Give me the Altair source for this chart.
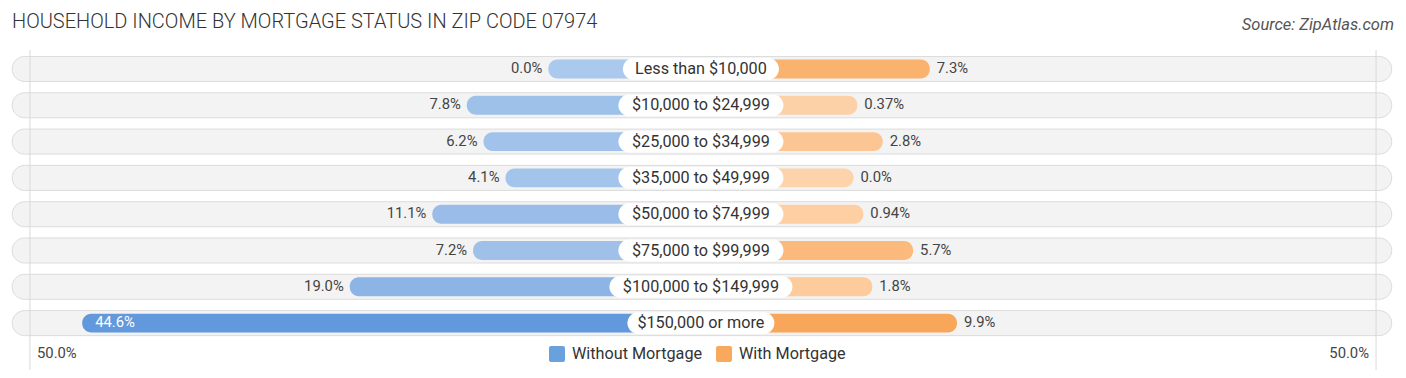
import altair as alt
import pandas as pd

categories = ["Less than $10,000", "$10,000 to $24,999", "$25,000 to $34,999",
              "$35,000 to $49,999", "$50,000 to $74,999", "$75,000 to $99,999",
              "$100,000 to $149,999", "$150,000 or more"]
without_mortgage = [0.0, 7.8, 6.2, 4.1, 11.1, 7.2, 19.0, 44.6]
with_mortgage = [7.3, 0.37, 2.8, 0.0, 0.94, 5.7, 1.8, 9.9]
without_labels = ["0.0%", "7.8%", "6.2%", "4.1%", "11.1%", "7.2%", "19.0%", "44.6%"]
with_labels = ["7.3%", "0.37%", "2.8%", "0.0%", "0.94%", "5.7%", "1.8%", "9.9%"]
axis_label = "50.0%"
legend_names = ["Without Mortgage", "With Mortgage"]

BLUE_LIGHT, BLUE_DARK = "#abc9ec", "#6199dc"
ORANGE_LIGHT, ORANGE_DARK = "#fdd3ab", "#f8a65a"
FONT = "Roboto"
OFF = 14.6  # space reserved around the centre for the category pill (in % units)

df = pd.DataFrame({
    "idx": list(range(len(categories))),
    "cat": categories,
    "wo": without_mortgage,
    "w": with_mortgage,
    "wo_lab": without_labels,
    "w_lab": with_labels,
})
df["lo"] = -(OFF + df["wo"])
df["hi"] = OFF + df["w"]
df["half"] = (df["cat"].str.len() * 9.0 + 3) / 2 / 10.45
df["neg_half"] = -df["half"]
df["t0"] = df["idx"] - 0.345
df["t1"] = df["idx"] + 0.345
df["b0"] = df["idx"] - 0.26
df["b1"] = df["idx"] + 0.26
df["p0"] = df["idx"] - 0.30
df["p1"] = df["idx"] + 0.30
df["track_l"] = -65.9
df["track_r"] = 66.1
df["zero"] = 0.0

W, H = 1390, 370
xs = alt.Scale(domain=[-66.3, 66.7], range=[0, W], nice=False, zero=False)
ys = alt.Scale(domain=[-1.68, 8.512], range=[0, H], nice=False, zero=False)

base = alt.Chart(df)

track = base.mark_rect(cornerRadius=12.5, fill="#f3f3f3", stroke="#dcdcdc", strokeWidth=1).encode(
    x=alt.X("track_l:Q", scale=xs, axis=None), x2="track_r:Q",
    y=alt.Y("t0:Q", scale=ys, axis=None), y2="t1:Q")

grid = alt.Chart(pd.DataFrame({"g": [-64.2, 64.6]})).mark_rule(color="#d9d9d9", strokeWidth=1).encode(
    x=alt.X("g:Q", scale=xs, axis=None), y=alt.value(42), y2=alt.value(362))

left = base.mark_rect(cornerRadius=9).encode(
    x=alt.X("lo:Q", scale=xs), x2="zero:Q",
    y=alt.Y("b0:Q", scale=ys), y2="b1:Q",
    color=alt.Color("wo:Q", scale=alt.Scale(domain=[0, max(without_mortgage)],
                                            range=[BLUE_LIGHT, BLUE_DARK]), legend=None))

right = base.mark_rect(cornerRadius=9).encode(
    x=alt.X("zero:Q", scale=xs), x2="hi:Q",
    y=alt.Y("b0:Q", scale=ys), y2="b1:Q",
    color=alt.Color("w:Q", scale=alt.Scale(domain=[0, max(with_mortgage)],
                                           range=[ORANGE_LIGHT, ORANGE_DARK]), legend=None))

pill = base.mark_rect(cornerRadius=11, fill="white").encode(
    x=alt.X("neg_half:Q", scale=xs), x2="half:Q",
    y=alt.Y("p0:Q", scale=ys), y2="p1:Q")

cat_text = base.mark_text(font=FONT, fontSize=16.2, color="#333333", baseline="middle", align="center").encode(
    x=alt.X("zero:Q", scale=xs), y=alt.Y("idx:Q", scale=ys), text="cat:N")

left_out = base.transform_filter("datum.wo <= 30").mark_text(
    font=FONT, fontSize=14.8, color="#444444", baseline="middle", align="right", dx=-6).encode(
    x=alt.X("lo:Q", scale=xs), y=alt.Y("idx:Q", scale=ys), text="wo_lab:N")

left_in = base.transform_filter("datum.wo > 30").mark_text(
    font=FONT, fontSize=14.8, color="white", baseline="middle", align="left", dx=13).encode(
    x=alt.X("lo:Q", scale=xs), y=alt.Y("idx:Q", scale=ys), text="wo_lab:N")

right_out = base.mark_text(
    font=FONT, fontSize=14.8, color="#444444", baseline="middle", align="left", dx=7).encode(
    x=alt.X("hi:Q", scale=xs), y=alt.Y("idx:Q", scale=ys), text="w_lab:N")

one = pd.DataFrame({"a": [0]})
title = alt.Chart(one).mark_text(font=FONT, fontSize=20, fontWeight=300, color="#333333",
                                 align="left", baseline="middle").encode(
    x=alt.value(4), y=alt.value(14),
    text=alt.value("HOUSEHOLD INCOME BY MORTGAGE STATUS IN ZIP CODE 07974"))
source = alt.Chart(one).mark_text(font=FONT, fontSize=16.5, fontStyle="italic", color="#555555",
                                  align="right", baseline="middle").encode(
    x=alt.value(1386), y=alt.value(17), text=alt.value("Source: ZipAtlas.com"))

ax_l = alt.Chart(one).mark_text(font=FONT, fontSize=14.8, color="#444444", align="left",
                                baseline="middle").encode(
    x=alt.value(29), y=alt.value(346), text=alt.value(axis_label))
ax_r = alt.Chart(one).mark_text(font=FONT, fontSize=14.8, color="#444444", align="right",
                                baseline="middle").encode(
    x=alt.value(1361), y=alt.value(346), text=alt.value(axis_label))

sq1 = alt.Chart(one).mark_rect(cornerRadius=2, color="#6aa1dd").encode(
    x=alt.value(541), x2=alt.value(557), y=alt.value(338), y2=alt.value(354))
sq2 = alt.Chart(one).mark_rect(cornerRadius=2, color="#f8a95e").encode(
    x=alt.value(708), x2=alt.value(724), y=alt.value(338), y2=alt.value(354))
lg1 = alt.Chart(one).mark_text(font=FONT, fontSize=16.2, color="#333333", align="left",
                               baseline="middle").encode(
    x=alt.value(564), y=alt.value(346), text=alt.value(legend_names[0]))
lg2 = alt.Chart(one).mark_text(font=FONT, fontSize=16.2, color="#333333", align="left",
                               baseline="middle").encode(
    x=alt.value(731), y=alt.value(346), text=alt.value(legend_names[1]))

chart = alt.layer(track, grid, left, right, pill, cat_text, left_out, left_in, right_out,
                  title, source, ax_l, ax_r, sq1, sq2, lg1, lg2).properties(
    width=W, height=H, padding=0,
    autosize=alt.AutoSizeParams(type="none"),
).configure_view(stroke=None).resolve_scale(color="independent")

chart.save("out.html", embed_options={"renderer": "svg", "actions": False})
